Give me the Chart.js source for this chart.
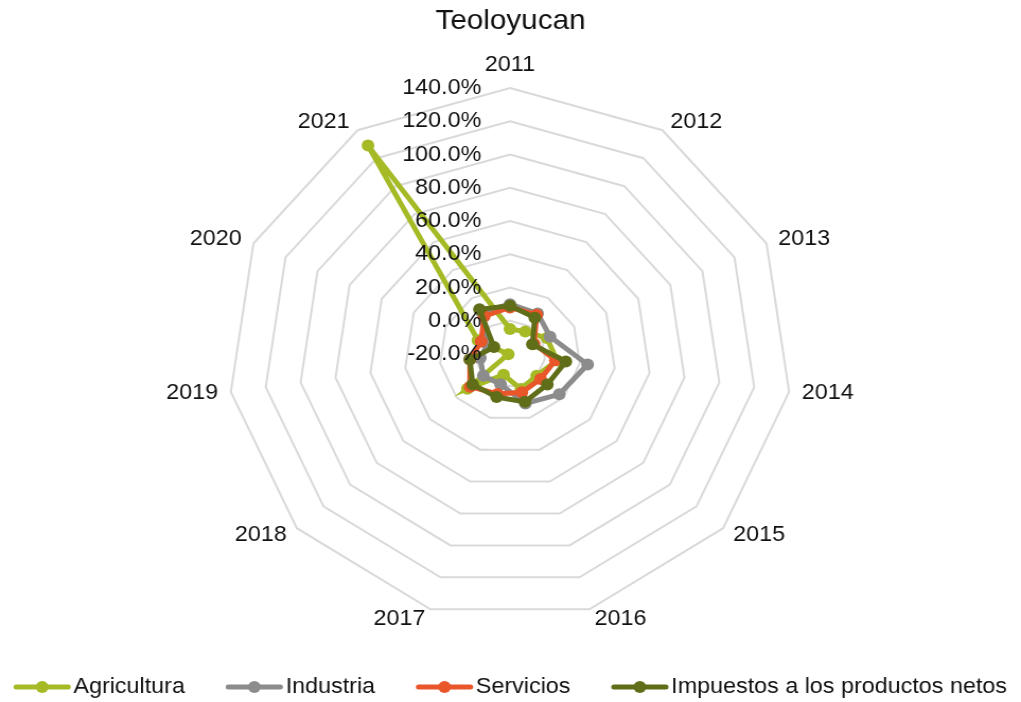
<!DOCTYPE html>
<html>
<head>
<meta charset="utf-8">
<script src="https://cdn.jsdelivr.net/npm/chart.js@4.4.1/dist/chart.umd.min.js"></script>
<style>
  html, body { margin: 0; padding: 0; background: #ffffff; }
  #c { display: block; width: 1021px; height: 702px; }
</style>
</head>
<body>
<canvas id="c" width="963" height="702" style="width:1021px;height:702px;"></canvas>
<script>
// ---- data ----
const years = ['2011','2012','2013','2014','2015','2016','2017','2018','2019','2020','2021'];
const agricultura = [-5, -4, 3, 7, 0, 2, -7, 12, -19, 0, 129];
const industria   = [10, 9, 5, 24.5, 17, 11, -1, 0, -3, -6, 10];
const servicios   = [8, 8, -5, 6, 3, 4, 5, 10, 3, -2, 7];
const impuestos   = [9, 6, -6, 12, 8, 10, 7, 8, 3, -10, 12];
const seriesNames = ['Agricultura', 'Industria', 'Servicios', 'Impuestos a los productos netos'];
const seriesColors = ['#A6BA26', '#8C8C8C', '#E8562A', '#606D19'];
const axisMin = -20, axisMax = 140, axisStep = 20;
const titleText = 'Teoloyucan';

const FONT = '"Liberation Sans", Arial, sans-serif';

const overlay = {
  id: 'overlay',
  afterDatasetsDraw(chart) {
    const s = chart.scales.r;
    const ctx = chart.ctx;
    ctx.save();
    ctx.font = '22px ' + FONT;
    ctx.fillStyle = '#111111';
    // radial tick labels, left of the vertical axis
    ctx.textAlign = 'right';
    ctx.textBaseline = 'middle';
    s.ticks.forEach(t => {
      const y = s.yCenter - s.getDistanceFromCenterForValue(t.value);
      ctx.fillText(t.value.toFixed(1) + '%', s.xCenter - 27, y);
    });
    // category labels around the web
    chart.data.labels.forEach((lab, i) => {
      const a = s.getIndexAngle(i);
      const ux = Math.sin(a);
      const p = s.getPointPosition(i, s.drawingArea + 10);
      if (Math.abs(ux) < 0.01) {
        ctx.textAlign = 'center';
        ctx.fillText(lab, p.x, p.y - 13);
      } else if (ux > 0) {
        ctx.textAlign = 'left';
        ctx.fillText(lab, p.x + 2, p.y);
      } else {
        ctx.textAlign = 'right';
        ctx.fillText(lab, p.x - 2, p.y);
      }
    });
    ctx.restore();
  },
  afterDraw(chart) {
    // legend (line + marker, Excel style)
    const ctx = chart.ctx;
    const ds = chart.data.datasets;
    ctx.save();
    ctx.font = '22px ' + FONT;
    ctx.textBaseline = 'middle';
    ctx.textAlign = 'left';
    const mark = 53, gapMT = 3, gapItems = 39;
    const widths = ds.map(d => mark + gapMT + ctx.measureText(d.label).width);
    const total = widths.reduce((a, b) => a + b, 0) + gapItems * (ds.length - 1);
    let x = (chart.width - total) / 2;
    const y = 687;
    ds.forEach((d, i) => {
      ctx.strokeStyle = d.borderColor;
      ctx.lineWidth = 5;
      ctx.lineCap = 'round';
      ctx.beginPath();
      ctx.moveTo(x + 2, y);
      ctx.lineTo(x + mark - 2, y);
      ctx.stroke();
      ctx.fillStyle = d.borderColor;
      ctx.beginPath();
      ctx.arc(x + mark / 2, y, 6, 0, Math.PI * 2);
      ctx.fill();
      ctx.fillStyle = '#111111';
      ctx.fillText(d.label, x + mark + gapMT, y);
      x += widths[i] + gapItems;
    });
    ctx.restore();
  }
};

const seriesData = [agricultura, industria, servicios, impuestos];
const datasets = seriesNames.map((name, i) => ({
  label: name,
  data: seriesData[i],
  borderColor: seriesColors[i],
  backgroundColor: seriesColors[i],
  pointBackgroundColor: seriesColors[i],
  pointBorderColor: seriesColors[i],
  borderWidth: 5,
  pointRadius: 6,
  pointBorderWidth: 0,
  fill: false,
  tension: 0,
  order: seriesNames.length - 1 - i
}));

new Chart(document.getElementById('c'), {
  type: 'radar',
  data: { labels: years, datasets },
  options: {
    responsive: false,
    devicePixelRatio: 1,
    animation: false,
    layout: { padding: { top: 0, bottom: 81, left: 0, right: 0 } },
    plugins: {
      legend: { display: false },
      tooltip: { enabled: false },
      title: {
        display: true,
        text: titleText,
        color: '#111111',
        font: { family: FONT, size: 28, weight: 'normal', lineHeight: 1.2 },
        padding: { top: 4, bottom: 50.4 }
      }
    },
    scales: {
      r: {
        min: axisMin,
        max: axisMax,
        ticks: { stepSize: axisStep, display: false },
        pointLabels: { display: false },
        angleLines: { display: false },
        grid: { color: '#d9d9d9', lineWidth: 2, circular: false }
      }
    }
  },
  plugins: [overlay]
});
</script>
</body>
</html>
